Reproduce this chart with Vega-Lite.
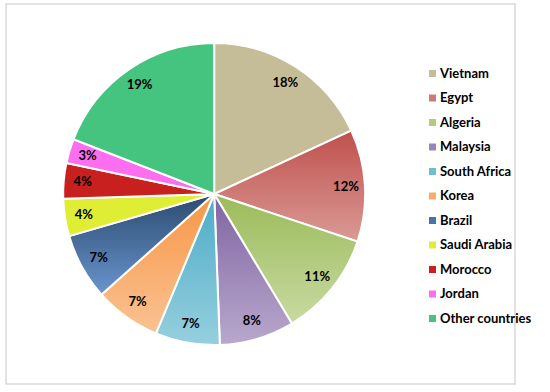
{
  "$schema": "https://vega.github.io/schema/vega-lite/v6.json",
  "width": 509,
  "height": 380,
  "autosize": "none",
  "padding": {"left": 6, "top": 4, "right": 35, "bottom": 8},
  "background": "white",
  "view": {"stroke": "#d9d9d9", "strokeWidth": 1.5},
  "config": {"view": {"stroke": "#d9d9d9", "strokeWidth": 1.5}},
  "data": {"values": [
    {"idx": 1, "country": "Vietnam", "share": 18.1, "label": "18%"},
    {"idx": 2, "country": "Egypt", "share": 12.0, "label": "12%"},
    {"idx": 3, "country": "Algeria", "share": 11.3, "label": "11%"},
    {"idx": 4, "country": "Malaysia", "share": 8.0, "label": "8%"},
    {"idx": 5, "country": "South Africa", "share": 6.9, "label": "7%"},
    {"idx": 6, "country": "Korea", "share": 7.1, "label": "7%"},
    {"idx": 7, "country": "Brazil", "share": 7.1, "label": "7%"},
    {"idx": 8, "country": "Saudi Arabia", "share": 4.0, "label": "4%"},
    {"idx": 9, "country": "Morocco", "share": 3.8, "label": "4%"},
    {"idx": 10, "country": "Jordan", "share": 2.6, "label": "3%"},
    {"idx": 11, "country": "Other countries", "share": 19.1, "label": "19%"}
  ]},
  "encoding": {
    "theta": {"field": "share", "type": "quantitative", "stack": true},
    "order": {"field": "idx", "type": "quantitative"}
  },
  "layer": [
    {
      "mark": {"type": "arc", "outerRadius": 151, "x": {"expr": "width * 0.409"}, "stroke": "white", "strokeWidth": 2},
      "encoding": {
        "color": {
          "field": "country", "type": "nominal",
          "scale": {
            "domain": ["Vietnam", "Egypt", "Algeria", "Malaysia", "South Africa", "Korea", "Brazil", "Saudi Arabia", "Morocco", "Jordan", "Other countries"],
            "range": ["#c4bd97", "#d07874", "#b0cb7c", "#9a85b8", "#6fbdd2", "#f8ab6b", "#4a72a4", "#dfee34", "#c8201f", "#fb6ef0", "#45c47f"]
          },
          "legend": {
            "title": null,
            "orient": "none",
            "legendX": 420,
            "legendY": 63,
            "symbolType": "square",
            "symbolSize": 49,
            "symbolStrokeWidth": 0,
            "labelFont": "Lato",
            "labelFontWeight": "bold",
            "labelFontSize": 13,
            "labelColor": "#000000",
            "labelOffset": 1,
            "labelLimit": 200,
            "rowPadding": 10.5
          }
        }
      }
    },
    {
      "mark": {"type": "arc", "outerRadius": 151, "x": {"expr": "width * 0.409"}, "stroke": "white", "strokeWidth": 2},
      "encoding": {
        "fill": {
          "condition": [
            {"test": "datum.country === 'Egypt'", "value": {"gradient": "linear", "x1": 0, "y1": 0, "x2": 0, "y2": 1, "stops": [{"offset": 0, "color": "#c0504d"}, {"offset": 1, "color": "#da9a96"}]}},
            {"test": "datum.country === 'Algeria'", "value": {"gradient": "linear", "x1": 0, "y1": 0, "x2": 0, "y2": 1, "stops": [{"offset": 0, "color": "#9bbb59"}, {"offset": 1, "color": "#c8daa2"}]}},
            {"test": "datum.country === 'Malaysia'", "value": {"gradient": "linear", "x1": 0, "y1": 0, "x2": 0, "y2": 1, "stops": [{"offset": 0, "color": "#8064a2"}, {"offset": 1, "color": "#b8a8cc"}]}},
            {"test": "datum.country === 'South Africa'", "value": {"gradient": "linear", "x1": 0, "y1": 0, "x2": 0, "y2": 1, "stops": [{"offset": 0, "color": "#4bacc6"}, {"offset": 1, "color": "#96cfde"}]}},
            {"test": "datum.country === 'Korea'", "value": {"gradient": "linear", "x1": 0, "y1": 0, "x2": 0, "y2": 1, "stops": [{"offset": 0, "color": "#f79646"}, {"offset": 1, "color": "#fac292"}]}},
            {"test": "datum.country === 'Brazil'", "value": {"gradient": "linear", "x1": 0, "y1": 0, "x2": 0, "y2": 1, "stops": [{"offset": 0, "color": "#2b4a70"}, {"offset": 1, "color": "#6a95cd"}]}},
            {"test": "datum.country === 'Vietnam'", "value": "#c4bd97"},
            {"test": "datum.country === 'Saudi Arabia'", "value": "#dfee34"},
            {"test": "datum.country === 'Morocco'", "value": "#c8201f"},
            {"test": "datum.country === 'Jordan'", "value": "#fb6ef0"}
          ],
          "value": "#45c47f"
        }
      }
    },
    {
      "mark": {"type": "text", "radius": 132, "x": {"expr": "width * 0.409"}, "font": "Lato", "fontWeight": "bold", "fontSize": 13, "color": "#000000"},
      "encoding": {
        "text": {"field": "label", "type": "nominal"}
      }
    }
  ]
}
